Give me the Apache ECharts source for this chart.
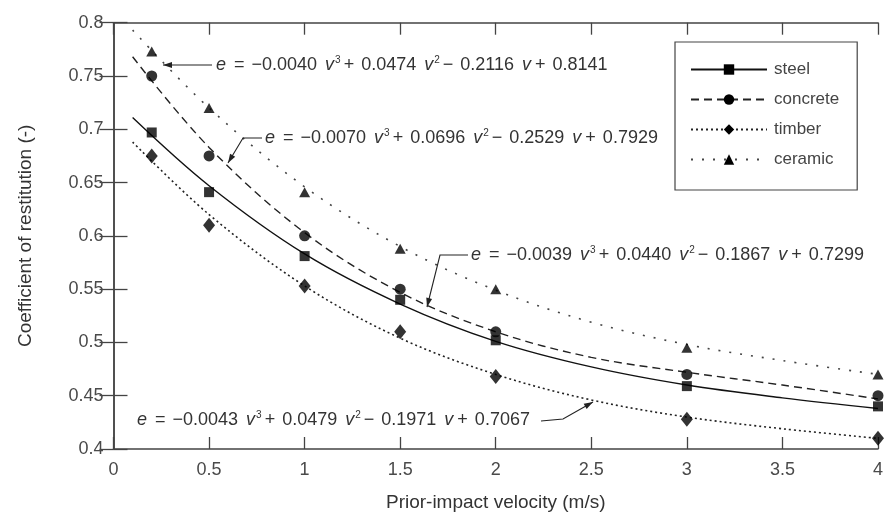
<!DOCTYPE html>
<html>
<head>
<meta charset="utf-8">
<script src="https://cdn.jsdelivr.net/npm/echarts@6/dist/echarts.min.js"></script>
<style>html,body{margin:0;padding:0;background:#fff}#c{width:886px;height:521px}</style>
</head>
<body>
<div id="c"></div>
<script>
// ---- data ----
const names = ['steel', 'concrete', 'timber', 'ceramic'];
const markerX = [0.2, 0.5, 1, 1.5, 2, 3, 4];
const steelPts    = [0.697, 0.641, 0.581, 0.540, 0.502, 0.459, 0.440];
const concretePts = [0.750, 0.675, 0.600, 0.550, 0.510, 0.470, 0.450];
const timberPts   = [0.675, 0.610, 0.553, 0.510, 0.468, 0.428, 0.410];
const ceramicPts  = [0.773, 0.720, 0.641, 0.588, 0.550, 0.495, 0.470];
// fitted curves, values
const curveX = [0.1, 0.5, 1, 1.5, 2, 2.5, 3, 3.5, 4];
const steelCurve    = [0.711, 0.647, 0.583, 0.536, 0.501, 0.477, 0.460, 0.448, 0.438];
const concreteCurve = [0.768, 0.683, 0.603, 0.547, 0.510, 0.486, 0.472, 0.460, 0.447];
const timberCurve   = [0.688, 0.620, 0.553, 0.504, 0.470, 0.446, 0.430, 0.419, 0.410];
const ceramicCurve  = [0.793, 0.720, 0.646, 0.590, 0.549, 0.519, 0.498, 0.483, 0.470];
const xTicks = [0, 0.5, 1, 1.5, 2, 2.5, 3, 3.5, 4];
const yTicks = [0.4, 0.45, 0.5, 0.55, 0.6, 0.65, 0.7, 0.75, 0.8];
const equations = [
  ['0.0040', '0.0474', '0.2116', '0.8141'],
  ['0.0070', '0.0696', '0.2529', '0.7929'],
  ['0.0039', '0.0440', '0.1867', '0.7299'],
  ['0.0043', '0.0479', '0.1971', '0.7067']
];

const FONT = 'Liberation Sans';
const pair = (xs, ys) => xs.map((x, i) => [x, ys[i]]);
const styles = {
  steel:    {type: 'solid', color: '#111', width: 1.4, symbol: 'rect', size: 10},
  concrete: {type: [8, 5], color: '#222', width: 1.4, symbol: 'circle', size: 11},
  timber:   {type: [2, 3], color: '#222', width: 1.6, symbol: 'diamond', size: [12, 15]},
  ceramic:  {type: [2, 9], color: '#444', width: 1.6, symbol: 'triangle', size: [11, 10]}
};
const curves = {steel: steelCurve, concrete: concreteCurve, timber: timberCurve, ceramic: ceramicCurve};
const points = {steel: steelPts, concrete: concretePts, timber: timberPts, ceramic: ceramicPts};

const series = [];
names.forEach(n => {
  const s = styles[n];
  series.push({
    name: n, type: 'line', data: pair(curveX, curves[n]), smooth: 0.35,
    showSymbol: false, symbol: s.symbol, symbolSize: s.size,
    lineStyle: {color: s.color, type: s.type, width: s.width},
    itemStyle: {color: '#000'}, silent: true, z: 2
  });
});
names.forEach(n => {
  const s = styles[n];
  series.push({
    name: n + ' data', type: 'scatter', data: pair(markerX, points[n]),
    symbol: s.symbol, symbolSize: s.size, itemStyle: {color: '#000'}, z: 3, silent: true
  });
});

function eqText(c) {
  return '{e|e} {o|=} −' + c[0] + ' {i|v}{s|3}{o|+} ' + c[1] + ' {i|v}{s|2}{o|−} ' + c[2] + ' {i|v}{o|+} ' + c[3];
}
const rich = {
  e: {fontStyle: 'italic', fontFamily: FONT, fontSize: 18, fill: '#333'},
  i: {fontStyle: 'italic', fontFamily: FONT, fontSize: 18, fill: '#333', padding: [0, 1, 0, 3]},
  o: {fontFamily: FONT, fontSize: 18, fill: '#333', padding: [0, 2, 0, 3]},
  s: {fontSize: 10, fontFamily: FONT, padding: [0, 0, 10, 0], fill: '#333'}
};
function textEl(x, y, c) {
  return {type: 'text', x: x, y: y, z: 10,
    style: {text: eqText(c), font: '18px "' + FONT + '"', fill: '#333', rich: rich, verticalAlign: 'middle'}};
}
function arrow(pts) {
  const els = [{type: 'polyline', shape: {points: pts}, style: {stroke: '#222', lineWidth: 1.1, fill: null}, z: 10}];
  const a = pts[pts.length - 2], b = pts[pts.length - 1];
  const dx = b[0] - a[0], dy = b[1] - a[1], L = Math.hypot(dx, dy);
  const ux = dx / L, uy = dy / L, len = 9, w = 3;
  const bx = b[0] - ux * len, by = b[1] - uy * len;
  els.push({type: 'polygon', z: 10, shape: {points: [b, [bx - uy * w, by + ux * w], [bx + uy * w, by - ux * w]]}, style: {fill: '#222'}});
  return els;
}

const option = {
  animation: false,
  backgroundColor: '#fff',
  textStyle: {fontFamily: FONT},
  grid: {left: 113.5, right: 2, top: 22.7, bottom: 72, containLabel: false},
  legend: {
    data: names, orient: 'vertical', left: 675, top: 42, width: 192,
    itemWidth: 76, itemHeight: 13, itemGap: 13,
    padding: [19, 18, 22, 15],
    borderColor: '#444', borderWidth: 1.2, backgroundColor: '#fff',
    textStyle: {fontFamily: FONT, fontSize: 17, color: '#444', padding: [0, 0, 0, 2]},
    selectedMode: false, z: 20
  },
  xAxis: [{
    type: 'value', min: 0, max: 4, interval: 0.5,
    name: 'Prior-impact velocity (m/s)', nameLocation: 'middle', nameGap: 44,
    nameTextStyle: {fontFamily: FONT, fontSize: 19, color: '#333'},
    axisLine: {lineStyle: {color: '#444', width: 1.5}},
    axisTick: {inside: true, length: 12, lineStyle: {color: '#444', width: 1.3}},
    axisLabel: {fontFamily: FONT, fontSize: 18, color: '#4a4a4a', margin: 12},
    splitLine: {show: false}
  }, {
    type: 'value', position: 'top', min: 0, max: 4, interval: 0.5,
    axisLine: {show: true, lineStyle: {color: '#444', width: 1.5}},
    axisTick: {show: true, inside: true, length: 12, lineStyle: {color: '#444', width: 1.3}},
    axisLabel: {show: false}, splitLine: {show: false}
  }],
  yAxis: [{
    type: 'value', min: 0.4, max: 0.8, interval: 0.05,
    name: 'Coefficient of restitution (-)', nameLocation: 'middle', nameGap: 78,
    nameTextStyle: {fontFamily: FONT, fontSize: 19, color: '#333'},
    axisLine: {show: true, lineStyle: {color: '#444', width: 1.5}},
    axisTick: {show: true, inside: true, length: 14, lineStyle: {color: '#444', width: 1.3}},
    axisLabel: {fontFamily: FONT, fontSize: 18, color: '#4a4a4a', margin: 10},
    splitLine: {show: false}
  }, {
    type: 'value', position: 'right', min: 0.4, max: 0.8, interval: 0.05,
    axisLine: {show: true, lineStyle: {color: '#444', width: 1.5}},
    axisTick: {show: true, inside: true, length: 14, lineStyle: {color: '#444', width: 1.3}},
    axisLabel: {show: false}, splitLine: {show: false}
  }],
  series: series,
  graphic: [
    textEl(216, 65, equations[0]),
    ...arrow([[212, 65], [163, 65]]),
    textEl(265, 138, equations[1]),
    ...arrow([[262, 138], [243, 138], [228, 163]]),
    textEl(471, 255, equations[2]),
    ...arrow([[468, 255], [440, 255], [427, 307]]),
    textEl(137, 420, equations[3]),
    ...arrow([[541, 421], [563, 419], [593, 402]])
  ]
};
echarts.init(document.getElementById('c'), null, {renderer: 'canvas'}).setOption(option);
</script>
</body>
</html>
